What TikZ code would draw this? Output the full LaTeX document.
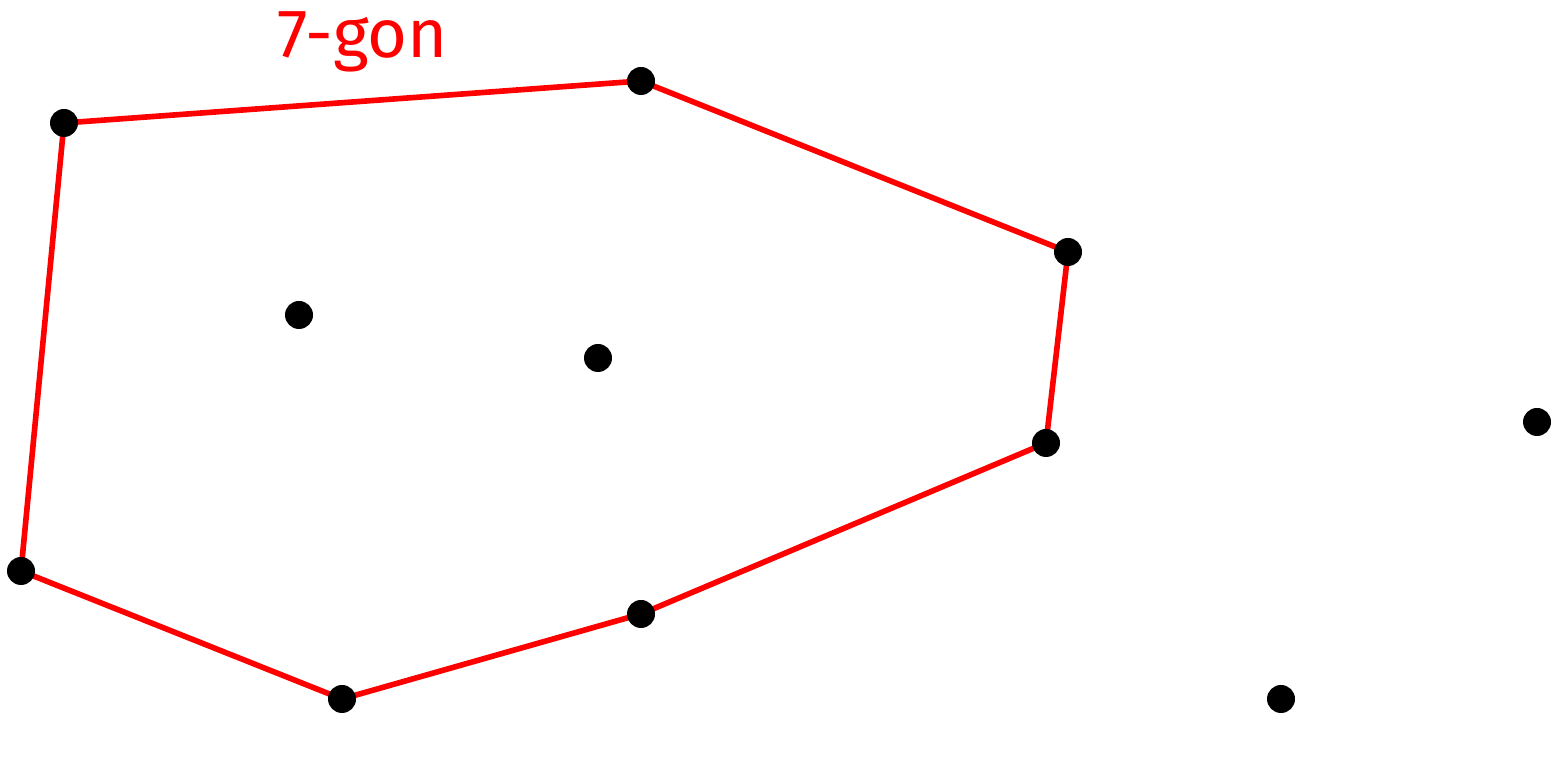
\documentclass[tikz,border=0pt]{standalone}
\usepackage{fontspec}
\setsansfont{Fira Sans}
\usetikzlibrary{backgrounds}
\tikzset{
  hulledge/.style={red, line width=1.6pt},
  pt/.style={circle, fill=black, inner sep=0pt, minimum size=0.28cm}
}
\begin{document}
\begin{tikzpicture}
  \useasboundingbox (0,0) rectangle (15.59,7.80);

  % Points of the set
  \node[pt] (p1) at (0.64,6.57) {};
  \node[pt] (p2) at (6.41,6.99) {};
  \node[pt] (p3) at (10.68,5.28) {};
  \node[pt] (p4) at (10.46,3.37) {};
  \node[pt] (p5) at (6.41,1.66) {};
  \node[pt] (p6) at (3.42,0.81) {};
  \node[pt] (p7) at (0.21,2.09) {};
  \node[pt] (q1) at (2.99,4.65) {};
  \node[pt] (q2) at (5.98,4.22) {};
  \node[pt] (q3) at (15.37,3.58) {};
  \node[pt] (q4) at (12.81,0.81) {};

  % The 7-gon through the outer points, behind the dots
  \begin{scope}[on background layer]
    \draw[hulledge] (p1.center) -- (p2.center) -- (p3.center) -- (p4.center)
      -- (p5.center) -- (p6.center) -- (p7.center) -- cycle;
  \end{scope}

  % Label
  \node[red, font=\sffamily\fontsize{19.5}{22}\selectfont, anchor=base] (lbl) at (3.63,7.22) {7-gon};
\end{tikzpicture}
\end{document}
